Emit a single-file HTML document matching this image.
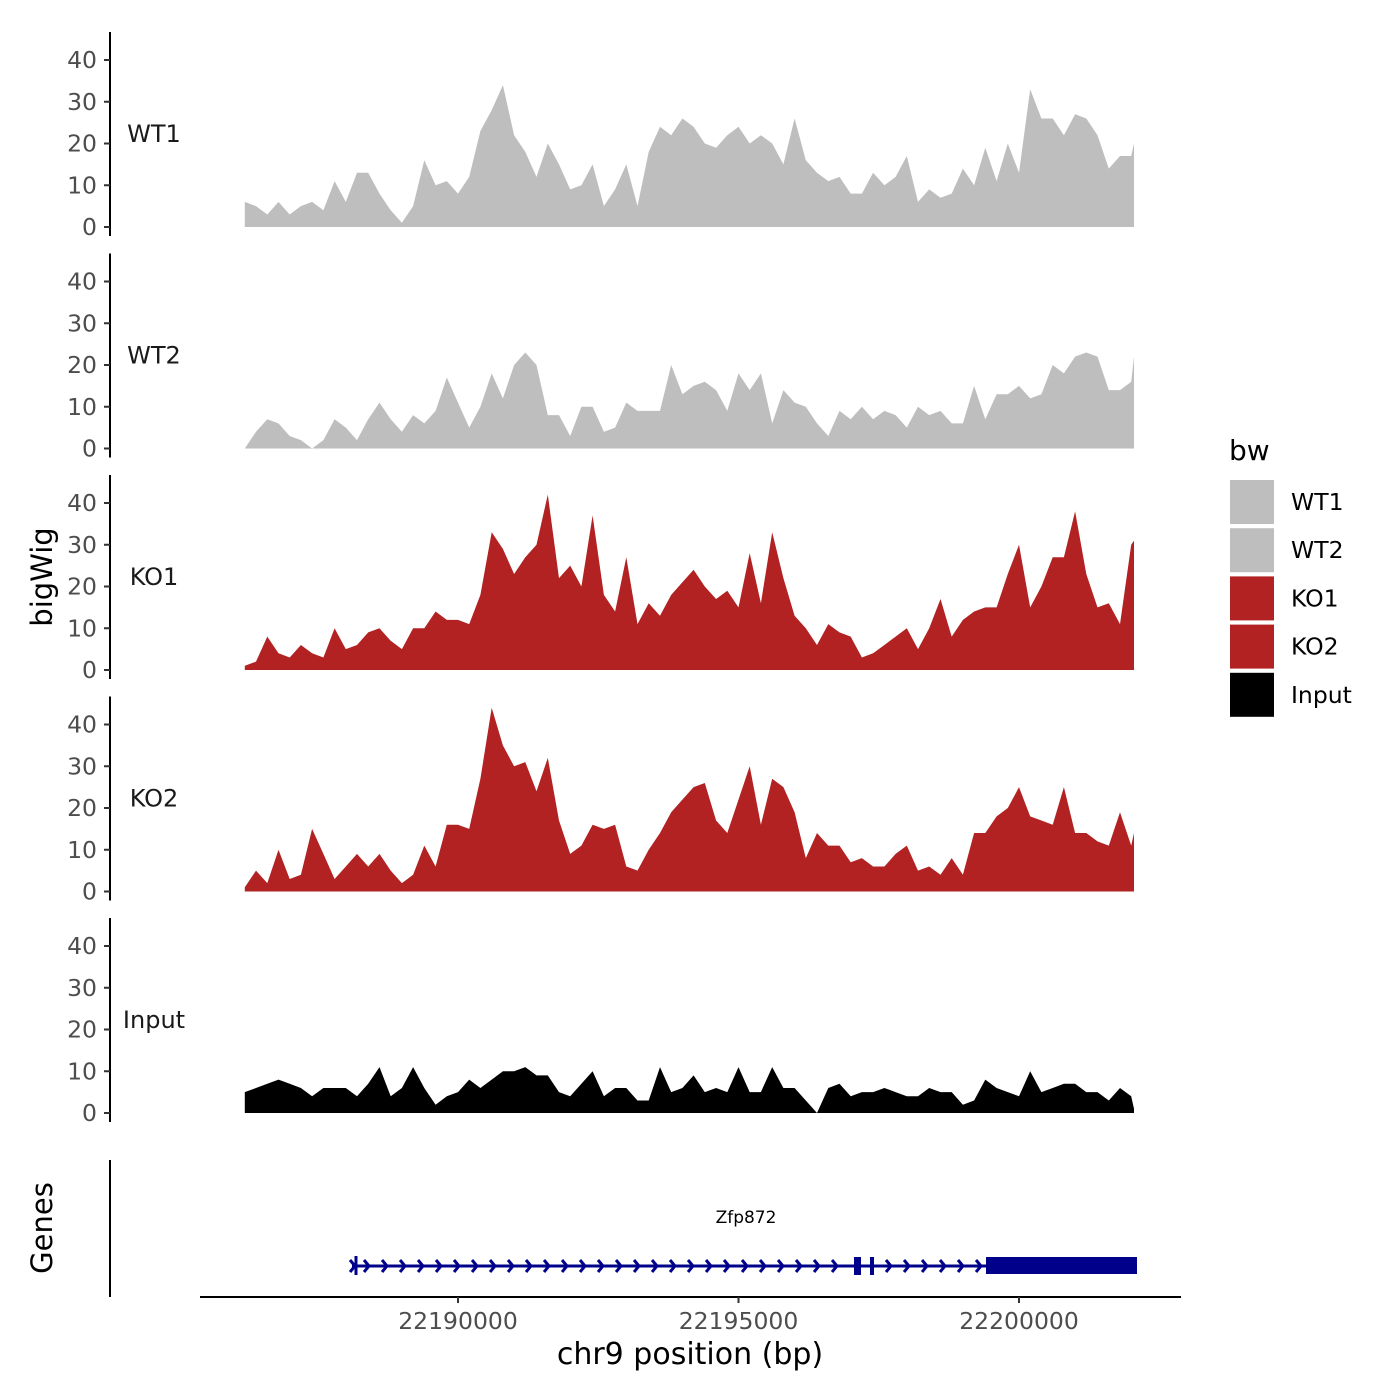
<!DOCTYPE html>
<html><head><meta charset="utf-8"><style>
html,body{margin:0;padding:0;background:#fff;}
svg{display:block;font-family:"DejaVu Sans","Liberation Sans",sans-serif;}
</style></head><body>
<svg id="chart" width="1400" height="1400" viewBox="0 0 1400 1400" xmlns="http://www.w3.org/2000/svg">
<rect x="0" y="0" width="1400" height="1400" fill="#fff"/>
<g id="panels"></g>
<g id="gene"></g>
<g id="xaxis"></g>
<text x="0" y="0" transform="translate(52,577) rotate(-90)" text-anchor="middle" font-size="29" fill="#000">bigWig</text>
<text x="0" y="0" transform="translate(52,1228) rotate(-90)" text-anchor="middle" font-size="29" fill="#000">Genes</text>
<text x="690" y="1364" text-anchor="middle" font-size="30" fill="#000">chr9 position (bp)</text>
<g id="legend"></g>
</svg>
<script>
const positions = [22186200,22186400,22186600,22186800,22187000,22187200,22187400,22187600,22187800,22188000,
22188200,22188400,22188600,22188800,22189000,22189200,22189400,22189600,22189800,22190000,
22190200,22190400,22190600,22190800,22191000,22191200,22191400,22191600,22191800,22192000,
22192200,22192400,22192600,22192800,22193000,22193200,22193400,22193600,22193800,22194000,
22194200,22194400,22194600,22194800,22195000,22195200,22195400,22195600,22195800,22196000,
22196200,22196400,22196600,22196800,22197000,22197200,22197400,22197600,22197800,22198000,
22198200,22198400,22198600,22198800,22199000,22199200,22199400,22199600,22199800,22200000,
22200200,22200400,22200600,22200800,22201000,22201200,22201400,22201600,22201800,22202000,22202050];
const wt1 = [6,5,3,6,3,5,6,4,11,6,13,13,8,4,1,5,16,10,11,8,12,23,28,34,22,18,12,20,15,9,10,15,5,9,15,5,18,24,22,26,24,20,19,22,24,20,22,20,15,26,16,13,11,12,8,8,13,10,12,17,6,9,7,8,14,10,19,11,20,13,33,26,26,22,27,26,22,14,17,17,20];
const wt2 = [0,4,7,6,3,2,0,2,7,5,2,7,11,7,4,8,6,9,17,11,5,10,18,12,20,23,20,8,8,3,10,10,4,5,11,9,9,9,20,13,15,16,14,9,18,14,18,6,14,11,10,6,3,9,7,10,7,9,8,5,10,8,9,6,6,15,7,13,13,15,12,13,20,18,22,23,22,14,14,16,22];
const ko1 = [1,2,8,4,3,6,4,3,10,5,6,9,10,7,5,10,10,14,12,12,11,18,33,29,23,27,30,42,22,25,20,37,18,14,27,11,16,13,18,21,24,20,17,19,15,28,16,33,22,13,10,6,11,9,8,3,4,6,8,10,5,10,17,8,12,14,15,15,23,30,15,20,27,27,38,23,15,16,11,30,31];
const ko2 = [1,5,2,10,3,4,15,9,3,6,9,6,9,5,2,4,11,6,16,16,15,27,44,35,30,31,24,32,17,9,11,16,15,16,6,5,10,14,19,22,25,26,17,14,22,30,16,27,25,19,8,14,11,11,7,8,6,6,9,11,5,6,4,8,4,14,14,18,20,25,18,17,16,25,14,14,12,11,19,11,14];
const input = [5,6,7,8,7,6,4,6,6,6,4,7,11,4,6,11,6,2,4,5,8,6,8,10,10,11,9,9,5,4,7,10,4,6,6,3,3,11,5,6,9,5,6,5,11,5,5,11,6,6,3,0,6,7,4,5,5,6,5,4,4,6,5,5,2,3,8,6,5,4,10,5,6,7,7,5,5,3,6,4,1];
const seriesNames = ["WT1","WT2","KO1","KO2","Input"];
const seriesColors = ["#bebebe","#bebebe","#b22222","#b22222","#000000"];
const yTicks = [0,10,20,30,40];
const xTicks = [22190000,22195000,22200000];
const xTickLabels = ["22190000","22195000","22200000"];

const NS = "http://www.w3.org/2000/svg";
function xScale(bp){ return 458 + (bp - 22190000) * 280.5 / 5000; }
function yScale(v, k){ return 227 + k * 221.5 - v * 4.175; }
function mk(tag, attrs, parent){ const e = document.createElementNS(NS, tag); for (const a in attrs) e.setAttribute(a, attrs[a]); parent.appendChild(e); return e; }

const allSeries = [wt1, wt2, ko1, ko2, input];
const panels = document.getElementById("panels");
allSeries.forEach((vals, k) => {
  const g = mk("g", {}, panels);
  
  
  const base = yScale(0, k);
  let d = "M" + xScale(positions[0]).toFixed(1) + "," + base;
  vals.forEach((v, i) => { d += " L" + xScale(positions[i]).toFixed(1) + "," + yScale(v, k).toFixed(1); });
  d += " L" + xScale(positions[vals.length - 1]).toFixed(1) + "," + base + " Z";
  const p = mk("path", {d: d, fill: seriesColors[k]}, g);
  
  
  const top = 32 + k * 221.5;
  const ax = mk("line", {x1: 110, x2: 110, y1: top, y2: base + 9, stroke: "#000", "stroke-width": 2}, g);
  
  
  yTicks.forEach(t => {
    const y = yScale(t, k);
    const tl = mk("line", {x1: 104, x2: 110, y1: y, y2: y, stroke: "#333", "stroke-width": 2}, g);
    
    
    const tx = mk("text", {x: 97, y: y + 8, "text-anchor": "end", "font-size": 23.5, fill: "#4d4d4d"}, g);
    tx.textContent = t;
    
    
  });
  const lab = mk("text", {x: 154, y: 142 + k * 221.5, "text-anchor": "middle", "font-size": 24, fill: "#1a1a1a"}, g);
  lab.textContent = seriesNames[k];
  
  
});

// gene track
const gene = document.getElementById("gene");
const gc = "#00008b";
mk("line", {x1: 110, x2: 110, y1: 1160, y2: 1297, stroke: "#000", "stroke-width": 2}, gene);
mk("line", {x1: 352, x2: 1137, y1: 1266, y2: 1266, stroke: gc, "stroke-width": 3}, gene);
mk("line", {x1: 356, x2: 356, y1: 1256, y2: 1275, stroke: gc, "stroke-width": 3}, gene);
mk("path", {d: "M350,1260 L355,1266 L350,1272", fill: "none", stroke: gc, "stroke-width": 3}, gene);
let chev = "";
for (let cx = 369; cx < 985; cx += 18) { if (cx > 848 && cx < 878) continue; chev += "M" + (cx - 5) + ",1260 L" + cx + ",1266 L" + (cx - 5) + ",1272 "; }
mk("path", {d: chev, fill: "none", stroke: gc, "stroke-width": 3}, gene);
mk("rect", {x: 854, y: 1257, width: 7, height: 18, fill: gc}, gene);
mk("rect", {x: 870, y: 1257, width: 4, height: 18, fill: gc}, gene);
mk("rect", {x: 986, y: 1257, width: 151, height: 17, fill: gc}, gene);
const gl = mk("text", {x: 746, y: 1223, "text-anchor": "middle", "font-size": 17, fill: "#000"}, gene);
gl.textContent = "Zfp872";



// x axis
const xa = document.getElementById("xaxis");
mk("line", {x1: 200, x2: 1181, y1: 1297, y2: 1297, stroke: "#000", "stroke-width": 2}, xa);
xTicks.forEach((t, i) => {
  const x = xScale(t);
  const tl = mk("line", {x1: x, x2: x, y1: 1297, y2: 1303, stroke: "#333", "stroke-width": 2}, xa);
  
  
  const tx = mk("text", {x: x, y: 1329, "text-anchor": "middle", "font-size": 23.5, fill: "#4d4d4d"}, xa);
  tx.textContent = xTickLabels[i];
  
  
});

// legend
const lg = document.getElementById("legend");
const lt = mk("text", {x: 1229, y: 460, "font-size": 28, fill: "#000"}, lg);
lt.textContent = "bw";


seriesNames.forEach((n, i) => {
  const g = mk("g", {}, lg);
  
  
  const y = 480 + i * 48.2;
  mk("rect", {x: 1230, y: y, width: 44, height: 44, fill: seriesColors[i]}, g);
  const t = mk("text", {x: 1291, y: y + 30, "font-size": 23.5, fill: "#000"}, g);
  t.textContent = n;
});
</script>
</body></html>
